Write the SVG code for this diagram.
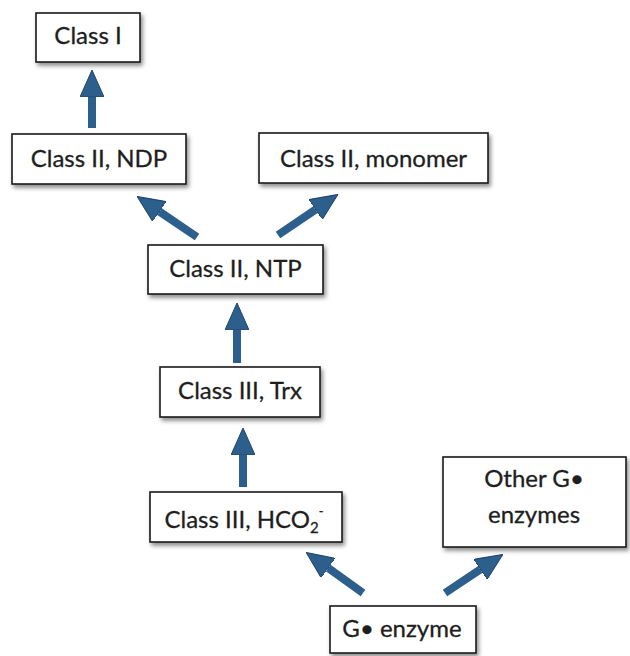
<svg xmlns="http://www.w3.org/2000/svg" width="630" height="656" viewBox="0 0 630 656">
  <defs>
    <filter id="shadow" x="-10%" y="-20%" width="130%" height="160%">
      <feDropShadow dx="2" dy="3" stdDeviation="2" flood-color="#000" flood-opacity="0.45"/>
    </filter>
    <marker id="head" viewBox="0 0 27 24" refX="0" refY="12" markerWidth="27" markerHeight="24" markerUnits="userSpaceOnUse" orient="auto">
      <path d="M0,0 L27,12 L0,24 Z" fill="#2d5f8c" stroke="#1f4468" stroke-width="1"/>
    </marker>
  </defs>
  <style>
    .box { fill: #fff; stroke: #1a1a1a; stroke-width: 1.6; filter: url(#shadow); }
    .lbl { font-family: Lato, "Open Sans", sans-serif; font-size: 24px; fill: #1e1e1e; stroke: #1e1e1e; stroke-width: 0.3; text-anchor: middle; }
    .arrow { stroke: #2d5f8c; stroke-width: 8; fill: none; marker-end: url(#head); }
  </style>
  <rect width="630" height="656" fill="#fff"/>

  <g id="connectors">
    <line class="arrow" x1="92" y1="128" x2="92" y2="97"/>
    <line class="arrow" x1="197" y1="237" x2="159.5" y2="211.6"/>
    <line class="arrow" x1="278" y1="235" x2="315.5" y2="209.6"/>
    <line class="arrow" x1="237" y1="363" x2="237" y2="330"/>
    <line class="arrow" x1="243" y1="487" x2="243" y2="455"/>
    <line class="arrow" x1="363" y1="593" x2="328.2" y2="568.1"/>
    <line class="arrow" x1="445" y1="593" x2="480.4" y2="569.4"/>
  </g>

  <g id="class-i">
    <rect class="box" x="36" y="13" width="104" height="49"/>
    <text class="lbl" x="88" y="44">Class I</text>
  </g>
  <g id="class-ii-ndp">
    <rect class="box" x="12" y="134" width="174" height="50"/>
    <text class="lbl" x="99" y="167">Class II, NDP</text>
  </g>
  <g id="class-ii-monomer">
    <rect class="box" x="259" y="133" width="229" height="50"/>
    <text class="lbl" x="373.5" y="167">Class II, monomer</text>
  </g>
  <g id="class-ii-ntp">
    <rect class="box" x="148" y="245" width="175" height="49"/>
    <text class="lbl" x="235.5" y="277">Class II, NTP</text>
  </g>
  <g id="class-iii-trx">
    <rect class="box" x="160" y="367" width="160" height="50"/>
    <text class="lbl" x="240" y="399">Class III, Trx</text>
  </g>
  <g id="class-iii-hco2">
    <rect class="box" x="150" y="492" width="192" height="50"/>
    <text class="lbl" x="244" y="528">Class III, HCO<tspan font-size="15" dy="5">2</tspan><tspan font-size="13" dy="-17">-</tspan></text>
  </g>
  <g id="other-g-enzymes">
    <rect class="box" x="443" y="457" width="183" height="90"/>
    <text class="lbl" x="534" y="487">Other G•</text>
    <text class="lbl" x="534" y="523">enzymes</text>
  </g>
  <g id="g-enzyme">
    <rect class="box" x="330" y="606" width="146" height="47"/>
    <text class="lbl" x="402" y="637">G• enzyme</text>
  </g>
</svg>
